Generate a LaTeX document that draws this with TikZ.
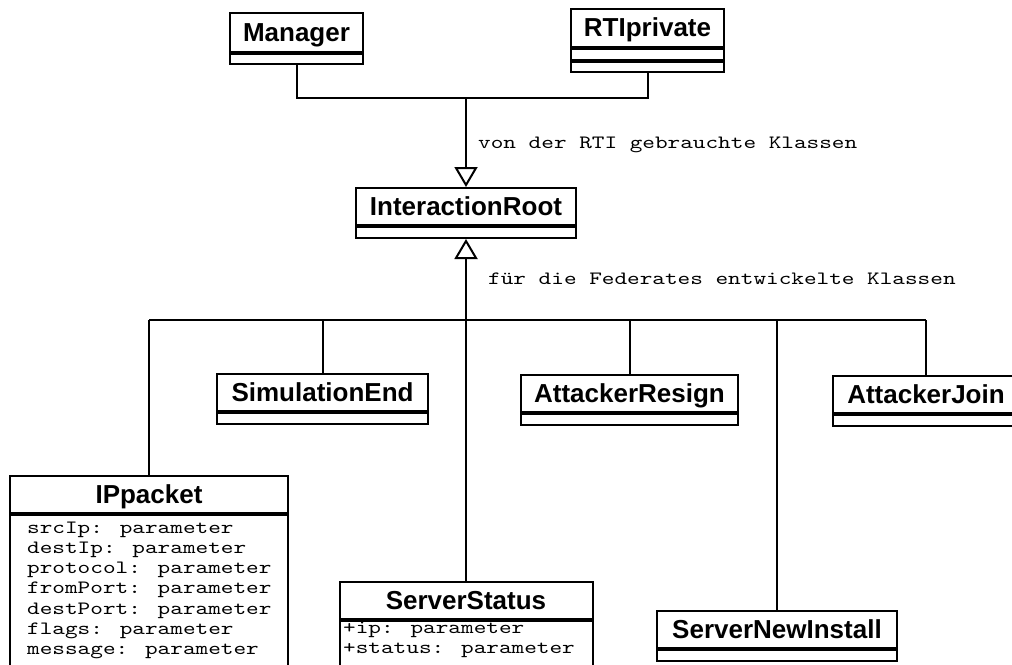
\documentclass[tikz,border=0pt]{standalone}
\usepackage{fontspec}
\newfontfamily\clsfont{Liberation Sans}
\newfontfamily\codefont{lmmono10-regular}[Extension=.otf, FakeStretch=1.28]
\usetikzlibrary{arrows.meta}
\tikzset{
 cls/.style={draw, line width=2pt, fill=white, inner sep=0pt, minimum height=37pt, text height=18pt, text depth=1pt, font={\clsfont\bfseries\fontsize{26}{30}\selectfont}, anchor=north},
 comp/.style={draw, line width=2pt, inner sep=0pt, anchor=north, minimum height=11pt},
 lbl/.style={font={\codefont\fontsize{18.8}{22}\selectfont}, anchor=base west, inner sep=0pt},
 conn/.style={line width=2pt},
 stem/.style={line width=2.6pt},
 inh/.style={line width=2.6pt, -{Triangle[open, length=20pt, width=23pt, line width=2pt]}},
}
\begin{document}
\begin{tikzpicture}[x=1pt,y=-1pt]
\useasboundingbox (0,0) rectangle (1012,664);
\clip (0,0) rectangle (1012,664);
\fill[white] (0,0) rectangle (1012,664);
\coordinate (top) at (466,98);
\coordinate (bus) at (466,320);
% classes
\node[cls, minimum width=133pt, minimum height=39pt] (mgr) at (296.5,12) {Manager};
\node[comp, minimum width=133pt, minimum height=10pt] (mgrA) at (mgr.south) {};
\node[cls, minimum width=153pt, minimum height=38pt] (rti) at (647.5,8) {RTIprivate};
\node[comp, minimum width=153pt] (rtiA) at (rti.south) {};
\node[comp, minimum width=153pt, minimum height=10pt] (rtiB) at (rtiA.south) {};
\node[cls, minimum width=220pt] (root) at (466,187) {InteractionRoot};
\node[comp, minimum width=220pt] (rootA) at (root.south) {};
\node[cls, minimum width=211pt] (sim) at (322.5,373) {SimulationEnd};
\node[comp, minimum width=211pt] (simA) at (sim.south) {};
\node[cls, minimum width=217pt] (res) at (629.5,374) {AttackerResign};
\node[comp, minimum width=217pt] (resA) at (res.south) {};
\node[cls, minimum width=186pt] (join) at (926,375) {AttackerJoin};
\node[comp, minimum width=186pt] (joinA) at (join.south) {};
\node[cls, minimum width=278pt] (ip) at (149,475) {IPpacket};
\node[comp, minimum width=278pt, minimum height=220pt] (ipA) at (ip.south) {};
\node[cls, minimum width=253pt] (ss) at (466,581) {ServerStatus};
\node[comp, minimum width=253pt, minimum height=120pt] (ssA) at (ss.south) {};
\node[cls, minimum width=240pt] (sni) at (777,610) {ServerNewInstall};
\node[comp, minimum width=240pt] (sniA) at (sni.south) {};
% attributes
\foreach \t [count=\i] in {srcIp: parameter, destIp: parameter, protocol: parameter, fromPort: parameter, destPort: parameter, flags: parameter, message: parameter}
  \node[lbl] (ipT\i) at (27,{533+20.3*(\i-1)}) {\t};
\node[lbl] (ssT1) at (343,633) {+ip: parameter};
\node[lbl] (ssT2) at (343,653) {+status: parameter};
% connectors
\draw[conn] (mgrA.south) -- (mgrA.south |- top) -- (rtiB.south |- top) -- (rtiB.south);
\draw[inh] (top) -- (root.north);
\draw[inh] (bus) -- (rootA.south);
\draw[conn] (ip.north |- bus) -- (join.north |- bus);
\foreach \n in {ip,sim,res,join,sni} \draw[conn] (\n.north |- bus) -- (\n.north);
\draw[stem] (bus) -- (ss.north);
% labels
\node[lbl] (l1) at (478,148) {von der RTI gebrauchte Klassen};
\node[lbl] (l2) at (488,284) {für die Federates entwickelte Klassen};
\end{tikzpicture}
\end{document}
